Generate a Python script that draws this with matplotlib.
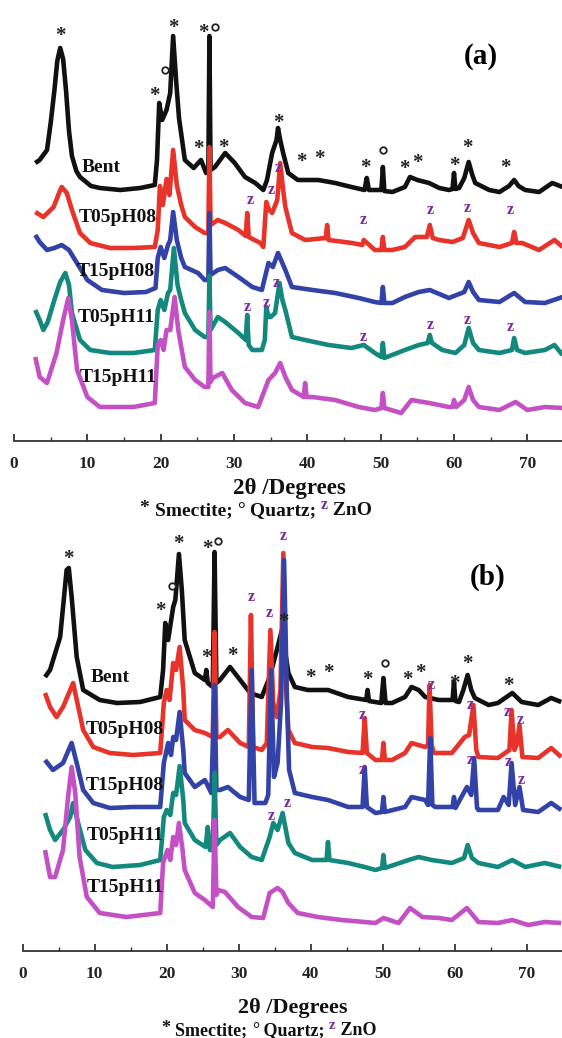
import matplotlib
matplotlib.use("Agg")
import matplotlib.pyplot as plt
from matplotlib.ticker import MultipleLocator

# ---------------- data (2θ in degrees, offset intensity in a.u.) ----------------
# Panel (a)
a_bent_x = [2.9, 3.5, 4.5, 5.0, 5.5, 5.9, 6.3, 6.7, 7.1, 7.5, 7.9, 8.5, 9.0, 10.5, 11.7, 14.5, 17.2, 19.2,
            19.5, 19.8, 20.2, 20.8, 21.3, 21.7, 22.1, 22.5, 23.3, 24.5, 25.5, 26.2, 26.5, 26.65, 26.8, 27.4,
            28.8, 30.1, 31.5, 32.9, 34.0, 34.5, 35.2, 35.8, 36.0, 36.3, 36.7, 37.4, 38.7, 41.5, 43.8, 46.0,
            47.8, 48.1, 48.4, 49.8, 50.1, 50.3, 50.5, 51.6, 53.3, 54.0, 55.0, 56.6, 58.0, 59.3, 59.8, 60.0,
            60.2, 60.7, 61.4, 62.0, 62.5, 62.9, 64.8, 66.2, 67.5, 68.2, 68.8, 69.7, 71.6, 73.4, 74.8]
a_bent_y = [278, 281, 291, 318, 350, 380, 393, 382, 350, 310, 285, 270, 264, 255, 253, 251, 253, 256,
            281, 338, 321, 331, 348, 405, 361, 323, 281, 273, 281, 268, 269, 405, 271, 274,
            288, 278, 264, 258, 251, 261, 288, 301, 313, 301, 288, 268, 261, 261, 258, 254,
            251, 263, 251, 251, 251, 274, 250, 249, 254, 264, 261, 258, 253, 251, 252, 268,
            252, 253, 263, 279, 266, 258, 251, 249, 255, 261, 255, 251, 249, 258, 254]

a_t05p08_x = [2.9, 4.0, 5.4, 6.2, 6.5, 7.2, 7.9, 9.0, 10.4, 13.1, 16.3, 19.2, 19.6, 19.9, 20.3, 20.8, 21.2,
              21.7, 22.2, 22.8, 23.3, 24.7, 26.0, 26.5, 26.65, 26.8, 27.8, 28.8, 30.6, 31.6, 31.8, 32.0,
              33.6, 34.0, 34.4, 34.8, 35.2, 35.9, 36.3, 36.7, 37.0, 37.9, 39.7, 42.5, 42.7, 42.9, 46.1,
              47.5, 47.7, 49.2, 50.1, 50.3, 50.5, 51.6, 53.3, 54.7, 56.3, 56.7, 57.1, 58.0, 59.8, 61.2,
              62.0, 62.6, 63.4, 66.2, 67.9, 68.2, 68.5, 69.3, 71.6, 73.7, 74.8]
a_t05p08_y = [229, 224, 234, 249, 254, 248, 231, 208, 198, 193, 193, 194, 211, 255, 236, 262, 246,
              291, 256, 236, 224, 214, 208, 208, 294, 216, 221, 218, 211, 205, 228, 204,
              198, 194, 239, 231, 228, 241, 278, 251, 234, 208, 201, 203, 216, 201, 198,
              196, 201, 191, 191, 204, 191, 191, 194, 204, 204, 216, 203, 201, 199, 203,
              221, 208, 198, 194, 198, 209, 198, 198, 191, 201, 194]

a_t15p08_x = [2.9, 3.5, 4.5, 5.5, 6.5, 7.5, 8.5, 10.0, 12.0, 15.0, 18.0, 19.3, 19.6, 20.0, 20.5, 21.0, 21.3,
              21.7, 22.2, 22.8, 23.3, 25.1, 26.0, 26.5, 26.65, 26.8, 27.8, 28.8, 30.6, 32.5, 33.8, 34.7,
              35.3, 36.0, 37.0, 37.9, 40.7, 43.8, 47.0, 49.2, 50.1, 50.3, 50.5, 51.6, 53.3, 55.2, 56.7,
              59.3, 61.4, 62.0, 62.6, 63.4, 66.2, 68.2, 69.7, 72.4, 74.8]
a_t15p08_y = [206, 199, 191, 193, 196, 191, 179, 161, 151, 148, 149, 153, 183, 194, 183, 196, 201,
              229, 201, 183, 174, 168, 161, 161, 228, 166, 171, 173, 164, 154, 151, 178,
              174, 188, 171, 154, 151, 148, 143, 139, 138, 154, 138, 138, 144, 149, 151,
              143, 149, 159, 149, 141, 139, 148, 139, 138, 144]

a_t05p11_x = [2.9, 3.5, 4.0, 4.6, 5.5, 6.3, 7.0, 7.5, 7.9, 9.0, 10.4, 13.1, 16.3, 19.2, 19.6, 20.0, 20.5,
              21.0, 21.3, 21.8, 22.3, 22.8, 23.3, 24.7, 26.0, 26.5, 26.65, 26.8, 27.8, 28.8, 30.6, 31.6,
              31.8, 32.0, 32.5, 33.8, 34.2, 34.4, 34.7, 35.0, 35.6, 36.2, 36.6, 37.0, 37.9, 39.7, 42.9,
              46.0, 47.7, 49.2, 50.1, 50.3, 50.5, 53.3, 55.2, 56.4, 56.7, 57.0, 58.4, 60.2, 61.4, 62.0,
              62.6, 63.4, 66.2, 67.9, 68.2, 68.6, 69.7, 72.4, 73.7, 74.8]
a_t05p11_y = [131, 121, 111, 119, 141, 159, 168, 156, 128, 101, 91, 88, 88, 91, 131, 141, 131,
              148, 151, 193, 156, 141, 128, 111, 104, 104, 165, 111, 124, 119, 108, 101,
              126, 96, 91, 91, 101, 134, 124, 124, 128, 158, 141, 131, 104, 101, 96,
              93, 96, 88, 84, 98, 83, 91, 96, 98, 106, 98, 91, 88, 96, 113,
              98, 91, 88, 91, 103, 91, 88, 91, 96, 86]

a_t15p11_x = [2.9, 3.5, 4.5, 5.8, 6.7, 7.4, 7.9, 8.6, 10.0, 11.7, 16.3, 19.2, 19.6, 20.0, 20.4, 20.8, 21.3,
              21.9, 22.4, 23.0, 23.3, 24.7, 26.0, 26.5, 26.65, 26.8, 27.1, 28.4, 29.7, 31.5, 33.3, 34.7,
              35.6, 36.3, 37.0, 37.9, 39.5, 39.7, 39.9, 40.7, 43.8, 47.0, 49.2, 50.1, 50.3, 50.5, 52.8,
              54.2, 56.6, 59.3, 59.8, 60.0, 60.3, 61.4, 62.0, 62.6, 63.4, 66.2, 68.4, 70.0, 72.4, 74.8]
a_t15p11_y = [84, 64, 58, 88, 121, 143, 121, 71, 44, 34, 34, 38, 96, 101, 91, 111, 111,
              144, 111, 86, 74, 61, 54, 54, 129, 59, 63, 68, 51, 38, 34, 61,
              68, 78, 64, 51, 44, 58, 44, 44, 41, 34, 31, 33, 48, 33, 28,
              41, 38, 34, 34, 41, 34, 41, 54, 41, 34, 31, 39, 31, 34, 33]

# Panel (b)
b_bent_x = [3.1, 3.8, 5.2, 5.7, 6.1, 6.4, 6.8, 7.5, 8.4, 10.7, 13.1, 16.3, 19.1, 19.5, 19.8, 20.2, 20.9,
            21.2, 21.7, 22.1, 22.5, 23.9, 25.3, 25.5, 25.7, 26.4, 26.65, 26.9, 27.4, 28.8, 30.2, 31.6,
            33.2, 34.3, 35.3, 36.0, 36.9, 37.8, 39.6, 42.4, 45.2, 47.7, 47.9, 48.1, 49.8, 50.1, 50.4,
            51.3, 53.1, 54.0, 55.0, 55.9, 57.8, 59.7, 59.9, 60.1, 60.6, 61.2, 61.8, 62.3, 62.8, 64.7,
            66.0, 68.0, 69.3, 71.6, 73.4, 74.8]
b_bent_y = [274, 281, 314, 351, 381, 383, 354, 294, 261, 251, 248, 249, 254, 281, 328, 311, 344,
            351, 397, 361, 311, 278, 271, 281, 268, 264, 399, 268, 271, 284, 271, 258,
            254, 274, 301, 321, 278, 264, 261, 261, 254, 251, 261, 250, 248, 273, 248,
            248, 254, 264, 261, 254, 251, 251, 269, 250, 249, 261, 276, 261, 253, 246,
            248, 258, 249, 246, 253, 249]

b_t05p08_x = [3.1, 3.8, 4.7, 5.6, 6.6, 7.0, 7.6, 8.4, 9.8, 12.1, 15.3, 19.1, 19.6, 20.0, 20.4, 20.9, 21.3,
              21.8, 22.3, 22.5, 23.9, 25.3, 26.4, 26.65, 26.9, 27.4, 28.5, 30.2, 31.4, 31.7, 32.0, 33.2,
              33.9, 34.4, 34.8, 35.3, 35.8, 36.2, 36.6, 36.9, 37.8, 40.2, 42.4, 45.2, 47.2, 47.5, 47.8,
              49.0, 49.9, 50.1, 50.3, 51.3, 53.1, 54.0, 55.9, 56.3, 56.5, 56.8, 57.1, 59.6, 61.4, 62.0,
              62.6, 63.0, 63.3, 66.0, 67.6, 67.9, 68.3, 68.6, 69.0, 69.4, 71.6, 73.4, 74.8]
b_t05p08_y = [258, 244, 234, 244, 261, 268, 248, 221, 204, 198, 196, 198, 248, 261, 251, 288, 281,
              304, 261, 231, 221, 218, 214, 319, 214, 214, 221, 208, 204, 336, 204, 201,
              208, 321, 248, 234, 261, 398, 261, 221, 208, 204, 203, 199, 198, 233, 198,
              191, 191, 208, 191, 191, 198, 208, 204, 206, 266, 206, 198, 198, 214, 216,
              246, 201, 194, 193, 201, 241, 201, 206, 226, 194, 193, 203, 194]

b_t15p08_x = [3.1, 4.2, 5.6, 6.8, 7.5, 8.4, 9.8, 12.1, 15.3, 19.1, 19.6, 20.2, 20.6, 20.9, 21.3, 21.8, 22.3,
              22.5, 23.9, 25.3, 26.2, 26.65, 26.9, 27.4, 28.5, 30.2, 31.4, 31.8, 32.2, 33.7, 34.1, 34.5,
              34.9, 35.4, 35.9, 36.3, 36.7, 37.0, 37.8, 40.2, 42.4, 45.2, 47.2, 47.5, 47.8, 49.0, 49.9,
              50.1, 50.3, 53.1, 54.0, 55.9, 56.3, 56.6, 56.9, 57.3, 59.7, 59.9, 60.1, 61.7, 62.3, 62.7,
              63.1, 63.3, 66.0, 66.8, 67.5, 67.9, 68.4, 69.0, 69.5, 71.6, 73.4, 74.8]
b_t15p08_y = [191, 181, 188, 208, 188, 161, 148, 143, 144, 144, 188, 208, 196, 214, 211, 239, 201,
              178, 164, 171, 158, 266, 161, 161, 164, 154, 151, 281, 148, 148, 156, 281,
              174, 188, 251, 391, 251, 181, 158, 154, 151, 144, 144, 184, 144, 138, 139,
              154, 139, 144, 154, 151, 146, 213, 146, 144, 144, 154, 143, 164, 156, 193,
              143, 141, 141, 154, 146, 188, 146, 164, 141, 139, 148, 141]

b_t05p11_x = [3.1, 3.8, 4.5, 5.6, 6.6, 7.0, 7.7, 8.7, 10.3, 12.5, 16.3, 19.1, 19.6, 20.0, 20.5, 20.9, 21.3,
              21.8, 22.3, 22.5, 23.9, 25.4, 25.7, 26.0, 26.4, 26.65, 26.9, 27.4, 28.8, 30.2, 31.8, 33.2,
              34.3, 34.8, 35.4, 36.1, 36.9, 37.8, 40.2, 42.2, 42.4, 42.6, 45.2, 47.5, 49.0, 49.9, 50.1,
              50.3, 53.6, 55.0, 56.8, 59.6, 61.3, 61.8, 62.4, 63.3, 66.0, 68.0, 69.8, 72.5, 74.8]
b_t05p11_y = [138, 121, 111, 121, 134, 148, 128, 101, 88, 84, 86, 91, 134, 141, 136, 158, 156,
              185, 151, 128, 111, 104, 124, 101, 101, 178, 106, 111, 118, 104, 94, 91,
              114, 128, 121, 138, 108, 98, 91, 91, 109, 91, 88, 84, 81, 83, 96,
              83, 91, 94, 91, 88, 93, 106, 93, 88, 84, 91, 84, 88, 84]

b_t15p11_x = [3.1, 3.8, 4.5, 5.6, 6.3, 6.8, 7.3, 7.9, 8.9, 10.7, 14.4, 19.1, 19.5, 20.1, 20.5, 20.9, 21.3,
              21.7, 22.2, 22.5, 23.9, 25.3, 26.4, 26.65, 26.9, 27.1, 28.1, 29.9, 31.8, 33.4, 34.3, 35.4,
              36.1, 36.9, 38.2, 41.0, 44.3, 49.0, 50.1, 52.2, 53.8, 55.5, 57.8, 59.6, 61.7, 63.3, 66.0,
              68.0, 70.2, 72.5, 74.8]
b_t15p11_y = [101, 74, 74, 101, 154, 184, 158, 94, 54, 38, 34, 38, 88, 101, 91, 114, 106,
              128, 101, 81, 58, 51, 44, 131, 56, 61, 59, 44, 34, 33, 58, 63,
              59, 48, 38, 34, 31, 28, 33, 28, 43, 34, 33, 31, 43, 29, 28,
              31, 26, 29, 28]

sample_names = ["Bent", "T05pH08", "T15pH08", "T05pH11", "T15pH11"]
sample_colors = ["#111111", "#e8332a", "#3242a6", "#13897e", "#c451c4"]

# trace-label anchor points (2θ, intensity)
a_label_x = [11.9, 14.1, 13.9, 13.9, 14.2]
a_label_y = [274, 223, 169, 123, 64]
b_label_x = [12.1, 14.2, 14.2, 14.2, 14.2]
b_label_y = [274, 221, 166, 116, 63]

# phase markers (2θ, intensity)
a_smectite_x = [6.3, 19.1, 21.7, 25.8, 25.1, 28.5, 36.0, 39.2, 41.7, 47.9, 53.2, 55.0, 60.0, 61.8, 67.0]
a_smectite_y = [411, 351, 419, 414, 298, 299, 324, 285, 288, 279, 278, 284, 281, 299, 279]
a_quartz_x = [20.6, 27.4, 50.3]
a_quartz_y = [371, 414, 291]
a_zno_x = [32.2, 35.1, 36.0, 47.6, 56.8, 61.8, 67.7, 31.8, 34.4, 35.7, 47.6, 56.8, 61.8, 67.7]
a_zno_y = [241, 251, 273, 221, 231, 233, 231, 134, 138, 158, 104, 116, 121, 114]

b_smectite_x = [6.3, 19.1, 21.6, 25.6, 25.5, 29.1, 36.2, 39.9, 42.4, 47.9, 53.4, 55.3, 59.9, 61.8, 67.5]
b_smectite_y = [398, 346, 413, 408, 299, 301, 335, 279, 284, 277, 277, 284, 273, 293, 271]
b_quartz_x = [20.7, 27.1, 50.3]
b_quartz_y = [365, 410, 288]
b_zno_x = [31.7, 34.3, 36.2, 47.2, 56.7, 62.2, 67.3, 69.1, 47.2, 62.2, 67.5, 69.3, 34.5, 36.7]
b_zno_y = [354, 338, 415, 236, 266, 246, 239, 231, 181, 191, 189, 171, 135, 148]

x_ticks = [0, 10, 20, 30, 40, 50, 60, 70]

# ---------------- drawing ----------------
SERIF = ["Liberation Serif", "DejaVu Serif"]
ZCOL = "#7a2a9e"
W, H = 562, 1038
fig = plt.figure(figsize=(W / 100, H / 100), dpi=100)


def make_axes(left_px, right_px, bottom_px, top_px, ytop):
    ax = fig.add_axes([left_px / W, (H - bottom_px) / H, (right_px - left_px) / W, (bottom_px - top_px) / H])
    ax.set_xlim(0, 75)
    ax.set_ylim(0, ytop)
    ax.patch.set_alpha(0)
    for s in ("top", "left", "right"):
        ax.spines[s].set_visible(False)
    ax.spines["bottom"].set_color("#333333")
    ax.spines["bottom"].set_linewidth(1.3)
    ax.set_yticks([])
    ax.set_xticks(x_ticks)
    ax.xaxis.set_minor_locator(MultipleLocator(5))
    ax.tick_params(axis="x", which="major", direction="in", length=5, width=1.2, pad=11,
                   labelsize=12.5, colors="#222222")
    ax.tick_params(axis="x", which="minor", direction="in", length=3, width=1.0, colors="#333333")
    for lab in ax.get_xticklabels():
        lab.set_fontfamily(SERIF)
        lab.set_fontweight("bold")
    return ax


def draw_panel(ax, traces, lab_x, lab_y, sm_x, sm_y, q_x, q_y, z_x, z_y):
    for (xs, ys), col in zip(traces, sample_colors):
        ax.plot(xs, ys, color=col, lw=3.3, solid_joinstyle="round", solid_capstyle="butt", clip_on=False)
    for name, lx, ly in zip(sample_names, lab_x, lab_y):
        ax.text(lx, ly, name, ha="center", va="center", fontsize=14, fontweight="bold",
                family=SERIF, color="#111111")
    for x, y in zip(sm_x, sm_y):
        ax.annotate("*", (x, y), xytext=(0, -4), textcoords="offset points", ha="center", va="center",
                    fontsize=15, fontweight="bold", family=SERIF, color="#222222", annotation_clip=False)
    ax.scatter(q_x, q_y, s=22, facecolors="white", edgecolors="#222222", linewidths=1.3, zorder=5,
               clip_on=False)
    for x, y in zip(z_x, z_y):
        ax.text(x, y, "z", ha="center", va="center", fontsize=11.5, fontweight="bold", family=SERIF,
                color=ZCOL)


ax_a = make_axes(14, 564, 441, 0, 441)
draw_panel(ax_a,
           [(a_bent_x, a_bent_y), (a_t05p08_x, a_t05p08_y), (a_t15p08_x, a_t15p08_y),
            (a_t05p11_x, a_t05p11_y), (a_t15p11_x, a_t15p11_y)],
           a_label_x, a_label_y, a_smectite_x, a_smectite_y, a_quartz_x, a_quartz_y, a_zno_x, a_zno_y)
ax_a.text(63.7, 384, "(a)", ha="center", va="center", fontsize=21, fontweight="bold", family=SERIF)

ax_b = make_axes(22.7, 562.7, 951, 520, 431)
draw_panel(ax_b,
           [(b_bent_x, b_bent_y), (b_t05p08_x, b_t05p08_y), (b_t15p08_x, b_t15p08_y),
            (b_t05p11_x, b_t05p11_y), (b_t15p11_x, b_t15p11_y)],
           b_label_x, b_label_y, b_smectite_x, b_smectite_y, b_quartz_x, b_quartz_y, b_zno_x, b_zno_y)
ax_b.text(64.6, 374, "(b)", ha="center", va="center", fontsize=21, fontweight="bold", family=SERIF)

renderer = fig.canvas.get_renderer()


def rich_line(pieces, cx_px, base_px):
    objs = []
    total = 0.0
    for s, col, size, dy in pieces:
        t = fig.text(0, 0, s, color=col, fontsize=size, fontweight="bold", family=SERIF,
                     ha="left", va="baseline")
        w = t.get_window_extent(renderer).width
        objs.append((t, w, dy))
        total += w
    x = cx_px - total / 2
    for t, w, dy in objs:
        t.set_position((x / W, (H - base_px + dy) / H))
        x += w


def legend_pieces(size):
    zs = size * 0.82
    return [("* ", "#111111", size, 2), ("Smectite; ", "#111111", size, 0),
            ("°", "#111111", size, 0), (" Quartz; ", "#111111", size, 0),
            ("z", ZCOL, zs, 6), (" ZnO", "#111111", size, 0)]


# panel (a) axis title and phase key
rich_line([("2θ /Degrees", "#111111", 16.5, 0)], 289, 494)
rich_line(legend_pieces(14), 256, 515)
# panel (b) axis title and phase key
rich_line([("2θ /Degrees", "#111111", 16, 0)], 292.7, 1013)
rich_line(legend_pieces(13), 269, 1035)

fig.savefig("out.png", dpi=100)
